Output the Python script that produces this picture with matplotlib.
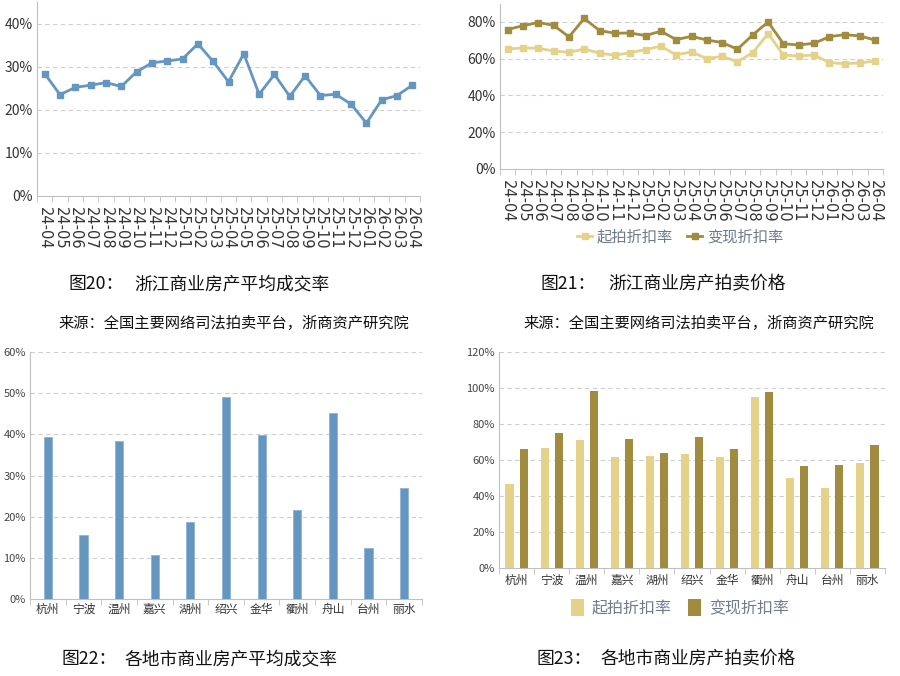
import matplotlib
matplotlib.use('Agg')
import matplotlib.pyplot as plt
from matplotlib.ticker import FixedLocator, NullFormatter

plt.rcParams['font.family'] = ['Noto Sans CJK SC', 'DejaVu Sans']

# ---- data ----
months = ['24-04', '24-05', '24-06', '24-07', '24-08', '24-09', '24-10', '24-11', '24-12',
          '25-01', '25-02', '25-03', '25-04', '25-05', '25-06', '25-07', '25-08', '25-09',
          '25-10', '25-11', '25-12', '26-01', '26-02', '26-03', '26-04']

deal_rate = [28.4, 23.5, 25.2, 25.7, 26.3, 25.4, 28.8, 30.9, 31.3,
             31.8, 35.3, 31.2, 26.5, 33.0, 23.6, 28.2, 23.1, 27.9,
             23.3, 23.6, 21.3, 16.9, 22.3, 23.3, 25.7]

start_disc = [65.3, 65.9, 65.7, 64.2, 63.5, 65.3, 63.0, 61.9, 63.3,
              65.0, 66.8, 62.1, 63.7, 60.1, 61.3, 58.4, 63.3, 73.7,
              61.9, 61.5, 62.1, 57.9, 57.3, 57.7, 58.8]

real_disc = [75.9, 78.0, 79.7, 78.2, 71.9, 81.9, 75.3, 73.9, 74.0,
             72.6, 75.0, 70.4, 72.2, 70.2, 68.8, 65.2, 73.0, 80.0,
             68.1, 67.5, 68.4, 72.0, 73.1, 72.4, 70.1]

cities = ['杭州', '宁波', '温州', '嘉兴', '湖州', '绍兴', '金华', '衢州', '舟山', '台州', '丽水']
city_deal = [39.4, 15.6, 38.3, 10.7, 18.7, 49.0, 39.9, 21.5, 45.1, 12.4, 27.0]
city_start = [46.7, 66.9, 71.1, 61.7, 62.4, 63.1, 61.7, 95.2, 50.2, 44.4, 58.5]
city_real = [66.1, 75.0, 98.1, 71.9, 64.1, 72.8, 66.1, 98.0, 56.9, 57.4, 68.1]

BLUE = '#6496c0'
LIGHT = '#e4d28a'
DARK = '#a08b3e'
GRID = '#cfcfcf'
AXIS = '#bfbfbf'

W, H = 900, 676
fig = plt.figure(figsize=(9, 6.76), dpi=100)


def px_axes(left, top, right, bottom):
    return fig.add_axes([left / W, 1 - bottom / H, (right - left) / W, (bottom - top) / H])


def style(ax, n, ymax, step, tsize, tcolor):
    for s in ['top', 'right']:
        ax.spines[s].set_visible(False)
    for s in ['left', 'bottom']:
        ax.spines[s].set_color(AXIS)
    ax.set_xlim(-0.5, n - 0.5)
    ax.set_ylim(0, ymax)
    ticks = list(range(0, int(ymax) + 1, step))
    ax.set_yticks(ticks)
    ax.set_yticklabels(['%d%%' % t for t in ticks], fontsize=tsize, color=tcolor)
    ax.tick_params(axis='y', length=0, pad=3)
    for t in ticks[1:]:
        ax.axhline(t, color=GRID, lw=0.8, ls=(0, (4, 3)), zorder=0)
    ax.xaxis.set_minor_locator(FixedLocator([i + 0.5 for i in range(-1, n)]))
    ax.xaxis.set_minor_formatter(NullFormatter())
    ax.tick_params(axis='x', which='minor', length=4, color=AXIS)
    ax.tick_params(axis='x', which='major', length=0)


x = list(range(len(months)))

# 图20
ax1 = px_axes(37, 2, 420, 196)
style(ax1, len(months), 45, 10, 10, '#333333')
ax1.plot(x, deal_rate, color=BLUE, lw=2, marker='s', ms=5, zorder=3)
ax1.set_xticks(x)
ax1.set_xticklabels(months, rotation=-90, fontsize=10.5, color='#333333', family='DejaVu Sans')
ax1.tick_params(axis='x', pad=8)

# 图21
ax2 = px_axes(500, 3.6, 883, 169)
style(ax2, len(months), 90, 20, 10, '#333333')
ax2.plot(x, start_disc, color=LIGHT, lw=2, marker='s', ms=5, label='起拍折扣率', zorder=3)
ax2.plot(x, real_disc, color=DARK, lw=2, marker='s', ms=5, label='变现折扣率', zorder=3)
ax2.set_xticks(x)
ax2.set_xticklabels(months, rotation=-90, fontsize=10.5, color='#333333', family='DejaVu Sans')
ax2.tick_params(axis='x', pad=8)
leg2 = ax2.legend(loc='center', bbox_to_anchor=(680 / W, 1 - 237 / H), bbox_transform=fig.transFigure,
                  ncol=2, frameon=False, fontsize=11, handlelength=1.0, handletextpad=0.3,
                  columnspacing=0.9, markerscale=0.9)
for t in leg2.get_texts():
    t.set_color('#6f7a8c')

# 图22
cx = list(range(len(cities)))
ax3 = px_axes(30, 352, 422, 599)
style(ax3, len(cities), 60, 10, 8, '#444444')
ax3.bar(cx, city_deal, width=0.23, color=BLUE, edgecolor='#8cb4d6', linewidth=0.6, zorder=3)
ax3.set_xticks(cx)
ax3.set_xticklabels(cities, fontsize=8.5, color='#333333')
ax3.tick_params(axis='x', pad=3)

# 图23
ax4 = px_axes(499, 352, 885, 568)
style(ax4, len(cities), 120, 20, 8, '#444444')
ax4.bar([c - 0.2 for c in cx], city_start, width=0.23, color=LIGHT, label='起拍折扣率', zorder=3)
ax4.bar([c + 0.2 for c in cx], city_real, width=0.23, color=DARK, label='变现折扣率', zorder=3)
ax4.set_xticks(cx)
ax4.set_xticklabels(cities, fontsize=8.5, color='#333333')
ax4.tick_params(axis='x', pad=4)
leg4 = ax4.legend(loc='center', bbox_to_anchor=(680 / W, 1 - 608 / H), bbox_transform=fig.transFigure,
                  ncol=2, frameon=False, fontsize=11.5, handlelength=0.8, handleheight=1.3,
                  handletextpad=0.5, columnspacing=1.0)
for t in leg4.get_texts():
    t.set_color('#6f7a8c')

# captions
def fig_text(px, py, s, size):
    fig.text(px / W, 1 - py / H, s, fontsize=size, va='center', ha='left', color='#111111')

fig_text(68, 284, '图20：', 12.8)
fig_text(134, 284, '浙江商业房产平均成交率', 12.8)
fig_text(541, 284, '图21：', 12.8)
fig_text(608, 284, '浙江商业房产拍卖价格', 12.8)
fig_text(58, 323, '来源：全国主要网络司法拍卖平台，浙商资产研究院', 11)
fig_text(523, 323, '来源：全国主要网络司法拍卖平台，浙商资产研究院', 11)
fig_text(61, 659, '图22：', 12.8)
fig_text(124, 659, '各地市商业房产平均成交率', 12.8)
fig_text(536, 659, '图23：', 12.8)
fig_text(600, 659, '各地市商业房产拍卖价格', 12.8)

fig.savefig('out.png', dpi=100)
